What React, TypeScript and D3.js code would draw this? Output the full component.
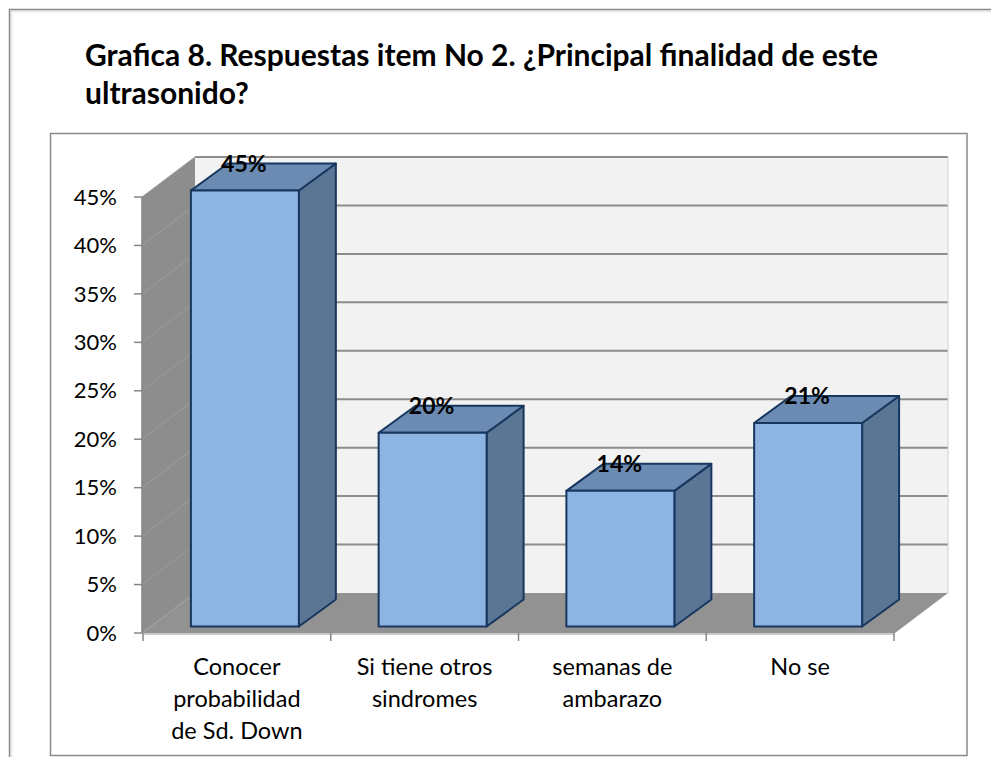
import React from "react";
import * as d3 from "d3";

const titleLines = [
  "Grafica 8. Respuestas item No 2. ¿Principal finalidad de este",
  "ultrasonido?",
];
const categories = [
  ["Conocer", "probabilidad", "de Sd. Down"],
  ["Si tiene otros", "sindromes"],
  ["semanas de", "ambarazo"],
  ["No se"],
];
const values = [0.45, 0.2, 0.14, 0.21];
const dataLabels = ["45%", "20%", "14%", "21%"];
const yTicks = [0, 0.05, 0.1, 0.15, 0.2, 0.25, 0.3, 0.35, 0.4, 0.45];

const FONT = "Lato, 'Open Sans', sans-serif";

export default function App() {
  const W = 991;
  const H = 757;
  // front plane geometry
  const x0 = 143, x1 = 894;
  const yFront0 = 633, yFrontTop = 197;
  const y = d3.scaleLinear().domain([0, 0.45]).range([yFront0, yFrontTop]);
  const x = d3.scaleBand<number>().domain(d3.range(categories.length)).range([x0, x1]).padding(0);
  const DX = 53, DY = -40; // full depth
  const bInset = [8, -6.5]; // bar front inset
  const bDepth = [37, -27];
  const bw = x.bandwidth() * 0.575;

  const pts = (a: number[][]) => a.map((p) => p.join(",")).join(" ");

  const left = x0 - 1;
  const right = x1 + 1;
  const backTop = y(0.45) + DY;

  return (
    <svg
      width={W}
      height={H}
      style={{ position: "absolute", left: 0, top: 0, background: "#fff" }}
      fontFamily={FONT}
    >
      {/* outer frame with soft shadow */}
      <rect x={11} y={11} width={W + 20} height={H + 20} fill="none" stroke="#ececec" strokeWidth={3} />
      <rect x={9.5} y={9.5} width={W + 20} height={H + 20} fill="none" stroke="#8a8a8a" strokeWidth={1.5} />
      {/* title */}
      {titleLines.map((t, i) => (
        <text key={i} x={85} y={66 + i * 38} fontSize={30} fontWeight="bold" fill="#000">
          {t}
        </text>
      ))}
      {/* inner plot frame */}
      <rect x={50.5} y={133.5} width={916.5} height={622} fill="#fff" stroke="#8a8a8a" strokeWidth={1.5} />

      {/* back wall */}
      <polygon
        points={pts([[left + DX, backTop], [right + DX, backTop], [right + DX, y(0) + DY], [left + DX, y(0) + DY]])}
        fill="#f2f2f2"
      />
      {/* side wall */}
      <polygon
        points={pts([[left, y(0)], [left + DX, y(0) + DY], [left + DX, backTop], [left, y(0.45)]])}
        fill="#8d8d8d"
      />
      {/* floor */}
      <polygon
        points={pts([[left, y(0)], [right, y(0)], [right + DX, y(0) + DY], [left + DX, y(0) + DY]])}
        fill="#929292"
      />
      {/* gridlines */}
      {yTicks.slice(1).map((t) => (
        <g key={t}>
          <line x1={left + DX} x2={right + DX} y1={y(t) + DY} y2={y(t) + DY} stroke="#8c8c8c" strokeWidth={2} />
          <line x1={left} x2={left + DX} y1={y(t)} y2={y(t) + DY} stroke="#9c9c9c" strokeWidth={1} />
        </g>
      ))}
      <line x1={right + DX} x2={right + DX} y1={backTop} y2={y(0) + DY} stroke="#d0d0d0" strokeWidth={1} />

      {/* y axis */}
      <line x1={left} x2={left} y1={y(0)} y2={y(0.45)} stroke="#868686" strokeWidth={1.5} />
      {yTicks.map((t) => (
        <g key={t}>
          <line x1={left - 8} x2={left} y1={y(t)} y2={y(t)} stroke="#868686" strokeWidth={1.5} />
          <text x={117} y={y(t)} dy="0.35em" textAnchor="end" fontSize={22} fill="#000">
            {d3.format(".0%")(t)}
          </text>
        </g>
      ))}
      {/* x axis */}
      <line x1={x0} x2={x1} y1={y(0) + 1} y2={y(0) + 1} stroke="#b8b8b8" strokeWidth={1.5} />
      {d3.range(categories.length + 1).map((i) => {
        const xx = x0 + i * x.bandwidth();
        return <line key={i} x1={xx} x2={xx} y1={y(0)} y2={y(0) + 8} stroke="#868686" strokeWidth={1.5} />;
      })}

      {/* bars */}
      {values.map((v, i) => {
        const cx = (x(i) as number) + x.bandwidth() / 2 + bInset[0];
        const fx0 = cx - bw / 2;
        const fx1 = cx + bw / 2;
        const fb = y(0) + bInset[1];
        const ft = y(v) + bInset[1];
        const [ddx, ddy] = bDepth;
        return (
          <g key={i} stroke="#17375e" strokeWidth={2} strokeLinejoin="round">
            <polygon points={pts([[fx1, fb], [fx1 + ddx, fb + ddy], [fx1 + ddx, ft + ddy], [fx1, ft]])} fill="#5b7595" />
            <polygon points={pts([[fx0, ft], [fx1, ft], [fx1 + ddx, ft + ddy], [fx0 + ddx, ft + ddy]])} fill="#6c8bb2" />
            <rect x={fx0} y={ft} width={bw} height={fb - ft} fill="#8db4e2" />
          </g>
        );
      })}
      {/* data labels */}
      {values.map((v, i) => {
        const cx = (x(i) as number) + x.bandwidth() / 2 + bInset[0];
        const ft = y(v) + bInset[1];
        return (
          <text key={i} x={cx - 1} y={ft + bDepth[1] + 8} textAnchor="middle" fontSize={23} fontWeight="bold" fill="#000">
            {dataLabels[i]}
          </text>
        );
      })}
      {/* category labels */}
      {categories.map((lines, i) => (
        <text key={i} x={(x(i) as number) + x.bandwidth() / 2} y={675} textAnchor="middle" fontSize={23.5} fill="#000">
          {lines.map((l, j) => (
            <tspan key={j} x={(x(i) as number) + x.bandwidth() / 2} dy={j === 0 ? 0 : 32}>
              {l}
            </tspan>
          ))}
        </text>
      ))}
    </svg>
  );
}
